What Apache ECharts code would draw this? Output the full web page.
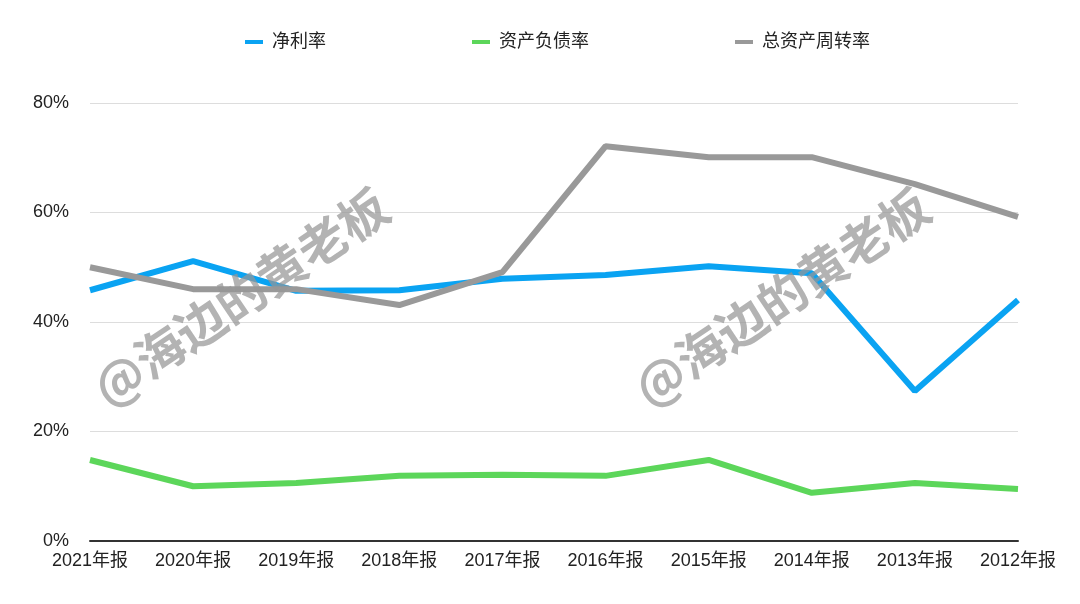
<!DOCTYPE html>
<html>
<head>
<meta charset="utf-8">
<script src="https://cdn.jsdelivr.net/npm/echarts@6/dist/echarts.min.js"></script>
<style>
html,body{margin:0;padding:0;background:#fff;}
#chart{width:1080px;height:604px;}
</style>
</head>
<body>
<div id="chart"></div>
<script>
const categories = ['2021年报','2020年报','2019年报','2018年报','2017年报','2016年报','2015年报','2014年报','2013年报','2012年报'];
const netMargin = [45.8, 51.1, 45.7, 45.8, 47.9, 48.6, 50.2, 48.9, 27.4, 44.0];
const debtRatio = [14.8, 10.0, 10.6, 11.9, 12.1, 11.9, 14.8, 8.8, 10.6, 9.5];
const assetTurnover = [50.0, 46.0, 46.0, 43.1, 49.1, 72.1, 70.1, 70.1, 65.2, 59.2];
const seriesNames = ['净利率','资产负债率','总资产周转率'];
const yTicks = [0, 20, 40, 60, 80];
const watermarkText = '@海边的黄老板';

const FONT = "'Liberation Sans', 'Noto Sans CJK SC', sans-serif";
const chart = echarts.init(document.getElementById('chart'));
const lineCommon = { type: 'line', symbol: 'none', smooth: false };
const wmStyle = { text: watermarkText, font: "bold 49px 'Noto Sans CJK SC', sans-serif", fill: 'rgba(150,150,150,0.72)', textAlign: 'center', textVerticalAlign: 'middle' };
chart.setOption({
  animation: false,
  backgroundColor: '#ffffff',
  legend: {
    left: 240, top: 28,
    itemWidth: 18, itemHeight: 4, itemGap: 146,
    icon: 'rect',
    textStyle: { fontSize: 18, color: '#222', fontFamily: FONT, padding: [0, 0, 0, 4] },
    data: seriesNames
  },
  grid: { left: 90, right: 62, top: 103, bottom: 63, containLabel: false },
  xAxis: {
    type: 'category', data: categories, boundaryGap: false,
    axisLine: { lineStyle: { color: '#333', width: 2 } },
    axisTick: { show: false },
    axisLabel: { fontSize: 18, color: '#222', fontFamily: FONT, margin: 11, interval: 0 }
  },
  yAxis: {
    type: 'value', min: yTicks[0], max: yTicks[yTicks.length - 1], interval: 20,
    axisLine: { show: false }, axisTick: { show: false },
    splitLine: { lineStyle: { color: '#dddddd', width: 1 } },
    axisLabel: { fontSize: 18, color: '#222', fontFamily: FONT, margin: 21, formatter: '{value}%' }
  },
  series: [
    Object.assign({ name: seriesNames[0], data: netMargin, color: '#0aa3f2', lineStyle: { width: 6 } }, lineCommon),
    Object.assign({ name: seriesNames[1], data: debtRatio, color: '#5cd65a', lineStyle: { width: 6 } }, lineCommon),
    Object.assign({ name: seriesNames[2], data: assetTurnover, color: '#999999', lineStyle: { width: 6 } }, lineCommon)
  ],
  graphic: [
    { type: 'text', x: 241, y: 297, rotation: 34 * Math.PI / 180, z: 100, style: Object.assign({}, wmStyle) },
    { type: 'text', x: 782, y: 297, rotation: 34 * Math.PI / 180, z: 100, style: Object.assign({}, wmStyle) }
  ]
});
</script>
</body>
</html>
